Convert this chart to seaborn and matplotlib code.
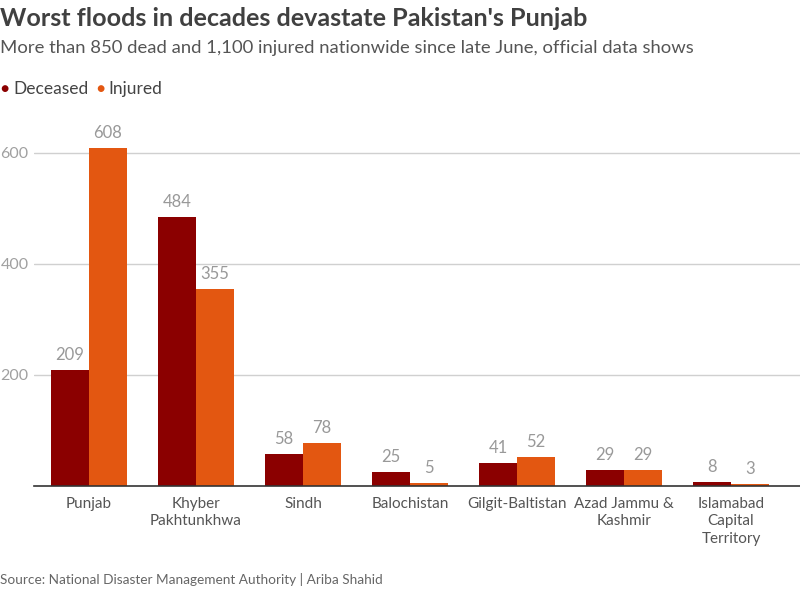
import matplotlib
matplotlib.use("Agg")
import matplotlib.pyplot as plt
import seaborn as sns
import pandas as pd

regions = ["Punjab", "Khyber\nPakhtunkhwa", "Sindh", "Balochistan", "Gilgit-Baltistan",
           "Azad Jammu &\nKashmir", "Islamabad\nCapital\nTerritory"]
deceased = [209, 484, 58, 25, 41, 29, 8]
injured = [608, 355, 78, 5, 52, 29, 3]
series = ["Deceased", "Injured"]
colors = ["#8b0000", "#e35711"]
yticks = [200, 400, 600]

df = pd.DataFrame({
    "region": regions * 2,
    "value": deceased + injured,
    "series": [series[0]] * len(regions) + [series[1]] * len(regions),
})

sns.set_style("white")
plt.rcParams["font.family"] = ["Lato", "DejaVu Sans"]

fig = plt.figure(figsize=(8, 5.9), dpi=100)
ax = fig.add_axes([34 / 800, (590 - 486) / 590, (800 - 34) / 800, (486 - 110) / 590])

sns.barplot(data=df, x="region", y="value", hue="series", palette=colors,
            width=0.71, saturation=1, ax=ax, legend=False, linewidth=0)

for cont in ax.containers:
    ax.bar_label(cont, labels=[f"{int(v)}" for v in cont.datavalues], padding=5,
                 color="#999999", fontsize=12)

ax.set_xlim(-0.514, 6.645)
ax.set_ylim(0, 677)
ax.set_yticks(yticks)
ax.set_yticklabels([str(t) for t in yticks], color="#a0a0a0", fontsize=11.5)
ax.tick_params(axis="y", length=0, pad=4)
ax.tick_params(axis="x", length=0, pad=8, labelsize=11, labelcolor="#555555")
for lbl in ax.get_xticklabels():
    lbl.set_linespacing(1.3)
ax.grid(axis="y", color="#d0d0d0", linewidth=1)
ax.set_axisbelow(True)
for s in ["top", "right", "left"]:
    ax.spines[s].set_visible(False)
ax.spines["bottom"].set_color("#333333")
ax.spines["bottom"].set_linewidth(1.2)
ax.set_xlabel("")
ax.set_ylabel("")

fig.text(0.0, 1 - 18 / 590, "Worst floods in decades devastate Pakistan's Punjab",
         fontsize=18.1, fontweight="bold", color="#404040", va="center", ha="left")
fig.text(0.0, 1 - 48 / 590,
         "More than 850 dead and 1,100 injured nationwide since late June, official data shows",
         fontsize=13.3, color="#555555", va="center", ha="left")

fig.text(0.0, 1 - 89 / 590, "\u25CF", color=colors[0], fontsize=10, va="center", ha="left")
fig.text(13 / 800, 1 - 89 / 590, "Deceased", color="#444444", fontsize=12.5, va="center",
         ha="left")
fig.text(96 / 800, 1 - 89 / 590, "\u25CF", color=colors[1], fontsize=10, va="center", ha="left")
fig.text(108 / 800, 1 - 89 / 590, "Injured", color="#444444", fontsize=12.5, va="center",
         ha="left")

fig.text(0.0, 1 - 580 / 590, "Source: National Disaster Management Authority | Ariba Shahid",
         fontsize=9.8, color="#666666", va="center", ha="left")

fig.savefig("out.png", dpi=100)
